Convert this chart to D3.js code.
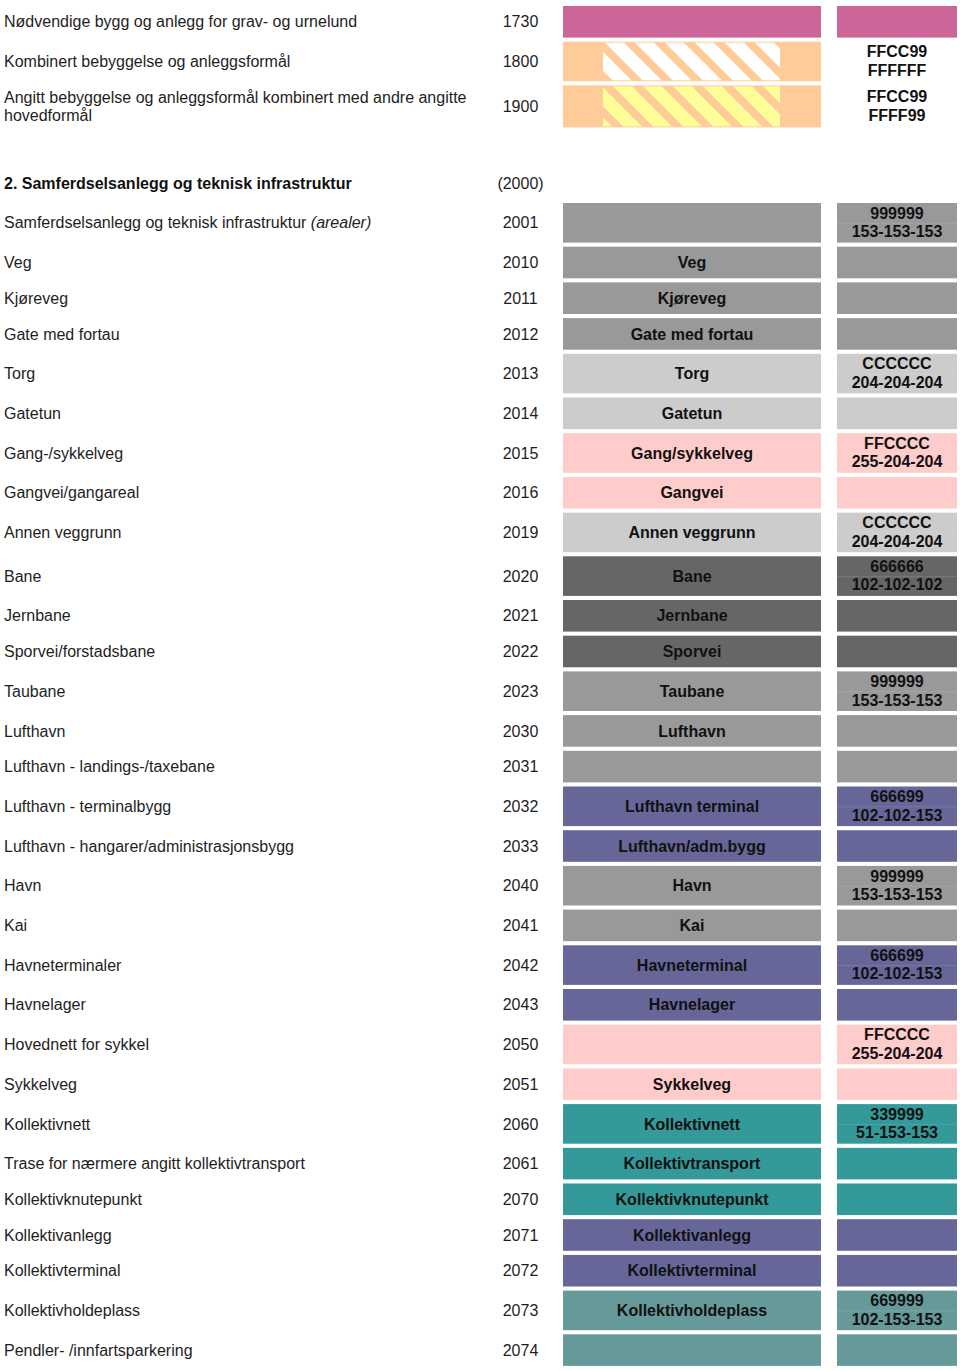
<!DOCTYPE html>
<html>
<head>
<meta charset="utf-8">
<script src="https://cdn.jsdelivr.net/npm/d3@7/dist/d3.min.js"></script>
<style>
  html, body { margin: 0; padding: 0; background: #fff; }
  svg { display: block; }
  text { font-family: "Liberation Sans", Arial, Helvetica, sans-serif; }
</style>
</head>
<body>
<svg id="chart" width="960" height="1371"></svg>
<script>
// ---------- DATA ----------
// Section 1 (continuation of previous section)
const codes1 = ["1730", "1800", "1900"];
const names1 = [
  "Nødvendige bygg og anlegg for grav- og urnelund",
  "Kombinert bebyggelse og anleggsformål",
  "Angitt bebyggelse og anleggsformål kombinert med andre angitte\nhovedformål"
];
const fills1 = ["#CC6699", "#FFCC99", "#FFCC99"];
const stripes1 = [null, "#FFFFFF", "#FFFF99"];
const rightBox1 = ["#CC6699", null, null];
const hex1 = ["", "FFCC99\nFFFFFF", "FFCC99\nFFFF99"];

// Section 2 header
const sectionTitle = "2. Samferdselsanlegg og teknisk infrastruktur";
const sectionCode = "(2000)";

// Section 2 rows
const codes2 = ["2001","2010","2011","2012","2013","2014","2015","2016","2019","2020",
  "2021","2022","2023","2030","2031","2032","2033","2040","2041","2042",
  "2043","2050","2051","2060","2061","2070","2071","2072","2073","2074"];
const names2 = [
  "Samferdselsanlegg og teknisk infrastruktur *(arealer)*",
  "Veg", "Kjøreveg", "Gate med fortau", "Torg", "Gatetun", "Gang-/sykkelveg",
  "Gangvei/gangareal", "Annen veggrunn", "Bane", "Jernbane", "Sporvei/forstadsbane",
  "Taubane", "Lufthavn", "Lufthavn - landings-/taxebane", "Lufthavn - terminalbygg",
  "Lufthavn - hangarer/administrasjonsbygg", "Havn", "Kai", "Havneterminaler",
  "Havnelager", "Hovednett for sykkel", "Sykkelveg", "Kollektivnett",
  "Trase for nærmere angitt kollektivtransport", "Kollektivknutepunkt",
  "Kollektivanlegg", "Kollektivterminal", "Kollektivholdeplass",
  "Pendler- /innfartsparkering"
];
const boxLabels2 = [
  "", "Veg", "Kjøreveg", "Gate med fortau", "Torg", "Gatetun", "Gang/sykkelveg",
  "Gangvei", "Annen veggrunn", "Bane", "Jernbane", "Sporvei", "Taubane", "Lufthavn",
  "", "Lufthavn terminal", "Lufthavn/adm.bygg", "Havn", "Kai", "Havneterminal",
  "Havnelager", "", "Sykkelveg", "Kollektivnett", "Kollektivtransport",
  "Kollektivknutepunkt", "Kollektivanlegg", "Kollektivterminal",
  "Kollektivholdeplass", ""
];
const fills2 = [
  "#999999","#999999","#999999","#999999","#CCCCCC","#CCCCCC","#FFCCCC","#FFCCCC",
  "#CCCCCC","#666666","#666666","#666666","#999999","#999999","#999999","#666699",
  "#666699","#999999","#999999","#666699","#666699","#FFCCCC","#FFCCCC","#339999",
  "#339999","#339999","#666699","#666699","#669999","#669999"
];
const hex2 = [
  "999999\n153-153-153", "", "", "", "CCCCCC\n204-204-204", "",
  "FFCCCC\n255-204-204", "", "CCCCCC\n204-204-204", "666666\n102-102-102",
  "", "", "999999\n153-153-153", "", "", "666699\n102-102-153", "",
  "999999\n153-153-153", "", "666699\n102-102-153", "", "FFCCCC\n255-204-204",
  "", "339999\n51-153-153", "", "", "", "", "669999\n102-153-153", ""
];

// ---------- BUILD ROWS ----------
const rows1 = codes1.map((c, i) => ({
  code: c, name: names1[i], box: "", fill: fills1[i], stripe: stripes1[i],
  right: rightBox1[i], hex: hex1[i]
}));
const rows2 = codes2.map((c, i) => ({
  code: c, name: names2[i], box: boxLabels2[i], fill: fills2[i], stripe: null,
  right: fills2[i], hex: hex2[i]
}));

// ---------- LAYOUT ----------
const svg = d3.select("#chart");
const H_SINGLE = 31.6, H_DOUBLE = 39.6, H_WRAPPED = 42, GAP = 4.1;
function lines(r) {
  return Math.max(r.name.split("\n").length, r.hex ? r.hex.split("\n").length : 1);
}
function layout(rows) {
  let acc = 0;
  rows.forEach(r => {
    r.h = r.name.split("\n").length > 1 ? H_WRAPPED : (lines(r) > 1 ? H_DOUBLE : H_SINGLE);
    r.u0 = acc;
    acc += r.h + GAP;
  });
  return acc;
}
const total1 = layout(rows1);
const total2 = layout(rows2);

const y1 = d3.scaleLinear().domain([0, total1]).range([6, 6 + total1]);
const y2 = d3.scaleLinear().domain([0, total2]).range([203, 203 + total2]);

// columns
const x = d3.scaleOrdinal()
  .domain(["name", "code", "boxL", "boxR", "hexL", "hexR"])
  .range([4, 520.5, 563, 821, 837, 957]);

const FS = 16;
const textColor = "#1e1e1e";

// ---------- PATTERNS ----------
const defs = svg.append("defs");
function stripePattern(id, color, phase) {
  const p = defs.append("pattern")
    .attr("id", id)
    .attr("patternUnits", "userSpaceOnUse")
    .attr("width", 30).attr("height", 60)
    .attr("x", phase).attr("y", 0)
    .attr("patternTransform", "skewX(45)");
  p.append("rect").attr("x", 0).attr("y", 0).attr("width", 19).attr("height", 60)
    .attr("fill", color);
}

// ---------- DRAW ----------
function drawRows(g, rows, y) {
  const row = g.selectAll("g.row").data(rows).join("g").attr("class", "row");

  row.each(function(d) {
    const sel = d3.select(this);
    const top = y(d.u0);
    const cy = top + d.h / 2;
    // left name (support multi-line, *italic* segments)
    const ls = d.name.split("\n");
    ls.forEach((ln, k) => {
      const t = sel.append("text")
        .attr("x", x("name"))
        .attr("y", cy + (k - (ls.length - 1) / 2) * 18)
        .attr("dy", "0.35em")
        .attr("font-size", FS)
        .attr("fill", textColor);
      const parts = ln.split("*");
      parts.forEach((p, j) => {
        if (!p) return;
        t.append("tspan").attr("font-style", j % 2 === 1 ? "italic" : "normal").text(p);
      });
    });
    // code
    sel.append("text")
      .attr("x", x("code"))
      .attr("y", cy).attr("dy", "0.35em")
      .attr("text-anchor", "middle")
      .attr("font-size", FS)
      .attr("fill", textColor)
      .text(d.code);
    // middle box
    sel.append("rect")
      .attr("x", x("boxL")).attr("y", top)
      .attr("width", x("boxR") - x("boxL")).attr("height", d.h)
      .attr("fill", d.fill);
    if (d.stripe) {
      const pid = "stripe-" + d.code;
      stripePattern(pid, d.stripe, (d.code === "1800" ? 605 : 613) - (top + 1));
      sel.append("rect")
        .attr("x", x("boxL") + 40).attr("y", top + 1)
        .attr("width", x("boxR") - x("boxL") - 81).attr("height", d.h - 2)
        .attr("fill", "url(#" + pid + ")");
    }
    if (d.box) {
      sel.append("text")
        .attr("x", (x("boxL") + x("boxR")) / 2)
        .attr("y", cy).attr("dy", "0.35em")
        .attr("text-anchor", "middle")
        .attr("font-size", FS).attr("font-weight", "bold")
        .attr("fill", "#111")
        .text(d.box);
    }
    // right box
    if (d.right) {
      sel.append("rect")
        .attr("x", x("hexL")).attr("y", top)
        .attr("width", x("hexR") - x("hexL")).attr("height", d.h)
        .attr("fill", d.right);
      if (d.hex) {
        sel.append("line")
          .attr("x1", x("hexL")).attr("x2", x("hexR"))
          .attr("y1", cy + 0.5).attr("y2", cy + 0.5)
          .attr("stroke", "#fff").attr("stroke-opacity", 0.12);
      }
    }
    if (d.hex) {
      const hl = d.hex.split("\n");
      hl.forEach((ln, k) => {
        sel.append("text")
          .attr("x", (x("hexL") + x("hexR")) / 2)
          .attr("y", cy + (k - (hl.length - 1) / 2) * 18.5 - 0.5)
          .attr("dy", "0.35em")
          .attr("text-anchor", "middle")
          .attr("font-size", FS).attr("font-weight", "bold")
          .attr("fill", "#111")
          .text(ln);
      });
    }
  });
}

drawRows(svg.append("g"), rows1, y1);

// section header
const hdr = svg.append("g");
hdr.append("text")
  .attr("x", x("name")).attr("y", 183).attr("dy", "0.35em")
  .attr("font-size", FS).attr("font-weight", "bold").attr("fill", "#111")
  .text(sectionTitle);
hdr.append("text")
  .attr("x", x("code")).attr("y", 183).attr("dy", "0.35em")
  .attr("text-anchor", "middle")
  .attr("font-size", FS).attr("fill", textColor)
  .text(sectionCode);

drawRows(svg.append("g"), rows2, y2);
</script>
</body>
</html>
